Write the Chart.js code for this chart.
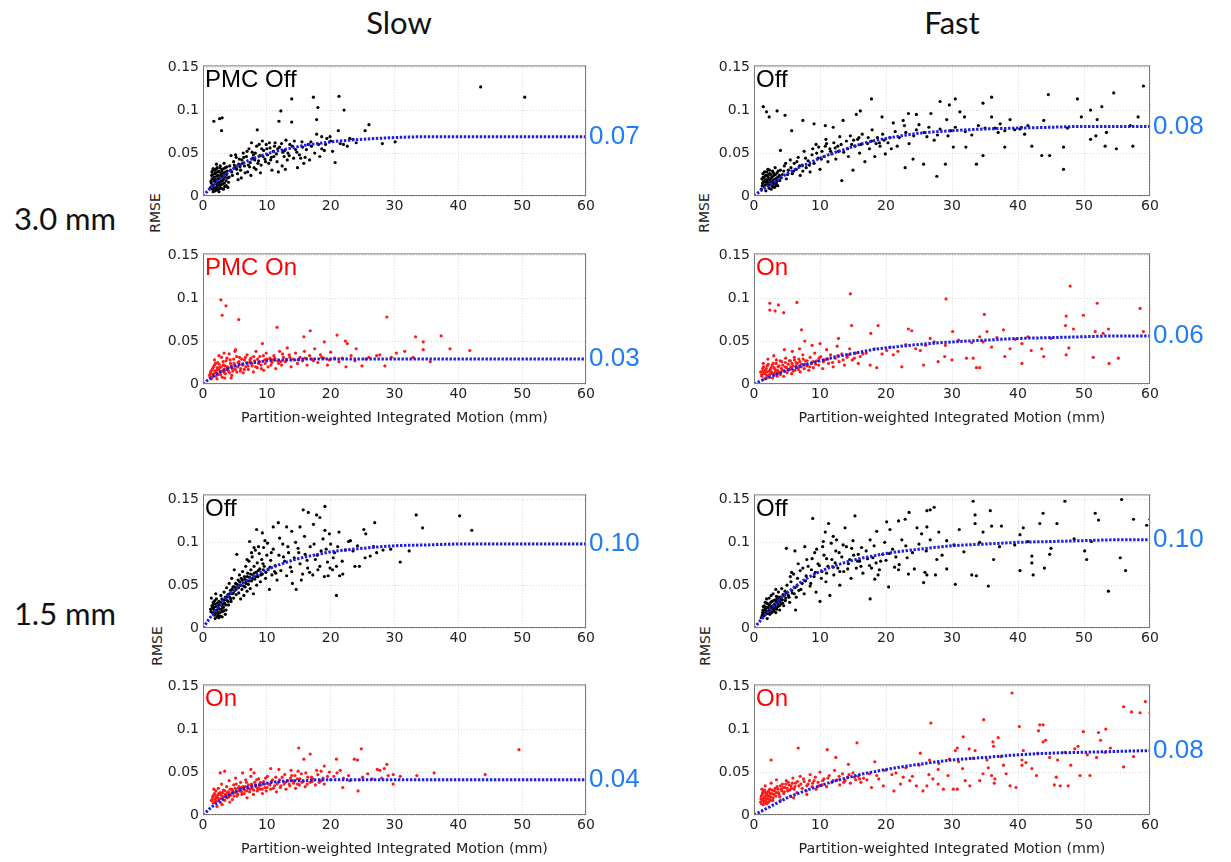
<!DOCTYPE html>
<html>
<head>
<meta charset="utf-8">
<script src="https://cdn.jsdelivr.net/npm/chart.js@4/dist/chart.umd.min.js"></script>
<style>
body { margin:0; background:#fff; width:1231px; height:862px; position:relative; overflow:hidden; }
.hd { position:absolute; font-family:Lato, "Open Sans", sans-serif; color:#111; line-height:1; white-space:nowrap; transform:translate(-50%,-50%); }
.ax { position:absolute; font-family:"DejaVu Sans", sans-serif; font-size:14px; color:#222; line-height:1; white-space:nowrap; transform:translate(-50%,-50%) rotate(-90deg); }
</style>
</head>
<body>
<div class="hd" style="left:399px;top:22px;font-size:31px">Slow</div>
<div class="hd" style="left:952px;top:22px;font-size:31px">Fast</div>
<div class="hd" style="left:65px;top:218px;font-size:31px">3.0 mm</div>
<div class="hd" style="left:65px;top:613px;font-size:31px">1.5 mm</div>
<div class="ax" style="left:155px;top:213px">RMSE</div>
<div class="ax" style="left:704px;top:213px">RMSE</div>
<div class="ax" style="left:157px;top:646px">RMSE</div>
<div class="ax" style="left:705px;top:646px">RMSE</div>
<script>
// --- ticks ---
const xTicks = [0, 10, 20, 30, 40, 50, 60];
const yTicks = [0, 0.05, 0.1, 0.15];
const yTickLabels = ['0', '0.05', '0.1', '0.15'];
const xTitleText = 'Partition-weighted Integrated Motion (mm)';

// --- fitted curves ---
const fitX = [0,1,2,3,4,5,6,7,8,10,12,14,16,18,20,25,30,35,40,45,50,55,60];
const fitSlowOff3  = [0,.008,.016,.022,.028,.033,.037,.041,.044,.049,.053,.056,.059,.061,.063,.066,.068,.069,.069,.069,.069,.069,.069];
const fitSlowOn3   = [0,.006,.011,.015,.018,.021,.023,.024,.025,.027,.028,.028,.029,.029,.029,.029,.029,.029,.029,.029,.029,.029,.029];
const fitFastOff3  = [0,.006,.011,.016,.021,.026,.030,.034,.037,.044,.050,.055,.060,.064,.067,.073,.076,.078,.079,.080,.081,.081,.081];
const fitFastOn3   = [0,.0035,.007,.010,.013,.016,.018,.021,.023,.027,.031,.034,.037,.040,.042,.046,.049,.051,.053,.054,.055,.056,.056];
const fitSlowOff15 = [0,.011,.021,.030,.038,.045,.051,.056,.061,.068,.074,.079,.083,.086,.089,.093,.096,.097,.098,.098,.098,.098,.098];
const fitSlowOn15  = [0,.007,.013,.018,.023,.027,.030,.032,.034,.037,.039,.040,.040,.041,.041,.041,.041,.041,.041,.041,.041,.041,.041];
const fitFastOff15 = [0,.009,.018,.026,.034,.041,.047,.053,.058,.066,.072,.077,.081,.084,.087,.092,.096,.098,.100,.101,.102,.103,.103];
const fitFastOn15  = [0,.004,.008,.012,.016,.020,.023,.026,.029,.034,.039,.043,.047,.050,.053,.059,.064,.067,.070,.072,.073,.074,.075];

// --- scatter points [motion, rmse] ---
const slowOff3 = [[1.2,.010],[1.3,.015],[1.4,.020],[1.5,.008],[1.5,.025],[1.6,.012],[1.7,.018],[1.8,.022],[1.8,.030],[1.9,.006],[2.0,.014],[2.0,.027],[2.1,.010],[2.2,.019],[2.2,.033],[2.3,.024],[2.4,.008],[2.4,.016],[2.5,.029],[2.6,.012],[2.6,.021],[2.7,.035],[2.8,.017],[2.8,.026],[2.9,.009],[3.0,.023],[3.0,.031],[3.1,.014],[3.2,.020],[3.3,.027],[3.4,.011],[3.5,.033],[3.6,.018],[3.7,.025],[3.8,.029],[4.0,.016],[4.1,.022],[4.2,.035],[1.4,.028],[1.6,.032],[2.1,.037],[3.3,.038],[2.5,.005],[1.9,.017],[2.3,.013],[3.9,.010],
  [1.7,.087],[2.6,.090],[3.0,.091],[2.9,.076],[4.4,.047],
  [4.5,.028],[4.8,.040],[5.0,.033],[5.2,.045],[5.4,.026],[5.6,.037],[5.9,.030],[6.1,.042],[6.3,.050],[6.5,.035],[6.8,.046],[7.0,.028],[7.2,.055],[7.4,.039],[7.6,.062],[7.8,.044],[8.0,.033],[8.2,.050],[8.4,.058],[8.5,.077],[8.7,.041],[8.9,.047],[9.1,.036],[9.3,.064],[9.5,.053],[9.7,.043],[9.9,.060],[10.1,.048],[10.3,.038],[10.5,.056],[10.7,.045],[11.0,.052],[11.3,.062],[11.6,.040],[11.9,.087],[12.2,.099],[12.0,.057],[12.4,.035],[12.7,.046],[13.0,.065],[13.3,.050],[13.6,.060],[13.9,.113],[13.9,.086],[14.2,.044],[14.5,.054],[14.8,.033],[15.1,.048],[15.5,.063],[15.8,.038],[16.2,.054],[16.7,.042],[17.0,.058],[17.3,.115],[17.8,.089],[17.8,.072],[18.0,.103],[18.3,.046],[18.6,.055],[18.6,.069],[19.2,.060],[19.4,.067],[19.9,.069],[20.3,.052],[20.7,.039],[21.2,.076],[21.3,.116],[22.0,.060],[22.1,.100],[23.0,.067],[23.5,.066],[25.4,.076],[26.0,.083],[28.1,.061],[30.1,.063],[43.5,.127],[50.4,.115],
  [6.0,.021],[7.5,.024],[9.0,.027],[10.8,.030],[5.5,.019],[8.3,.031],[11.8,.028],[12.9,.031],
  [1.25,.017],[1.35,.024],[1.45,.012],[1.55,.030],[1.65,.021],[1.75,.009],[1.85,.026],[1.95,.019],[2.05,.031],[2.15,.023],[2.25,.011],[2.35,.028],[2.45,.020],[2.55,.015],[2.65,.033],[2.75,.024],[2.85,.013],[2.95,.029],[3.05,.018],[3.15,.026],[3.25,.032],[3.35,.015],[3.45,.022],[3.55,.028],[3.65,.012],[3.75,.034],[3.85,.021],[1.6,.005],[2.1,.007],[2.7,.009],[3.2,.008],[4.3,.030],[4.6,.024],[4.9,.036],[5.3,.031],[5.7,.043],[6.2,.038],[6.6,.027],[6.9,.052],[7.3,.034],[7.9,.048],[8.6,.038],[9.2,.055],[9.8,.040],[10.4,.062],[11.1,.046],[11.7,.055],[12.5,.051],[13.2,.042],[14.0,.058],[15.3,.044],[16.5,.060],
  [5.1,.048],[5.8,.034],[6.4,.045],[7.1,.036],[7.7,.051],[8.1,.042],[8.8,.060],[9.4,.046],[10.0,.055],[10.6,.042],[11.2,.058],[11.5,.049],[12.3,.061],[12.8,.053],[13.5,.047],[14.3,.064],[14.7,.051],[15.6,.057],[16.0,.045],[16.9,.063],[17.5,.050],[18.1,.060],[19.0,.053],[20.0,.064],[21.5,.061],[22.6,.058],[24.0,.062]];

const slowOn3 = [[1.0,.010],[1.2,.014],[1.4,.008],[1.5,.018],[1.7,.012],[1.8,.022],[2.0,.009],[2.1,.016],[2.3,.025],[2.4,.011],[2.6,.019],[2.7,.014],[2.9,.031],[3.0,.008],[3.2,.022],[3.3,.017],[3.5,.012],[3.6,.027],[3.8,.020],[4.0,.015],[4.1,.035],[4.3,.024],[4.5,.010],[4.6,.018],[4.8,.029],[5.0,.021],[5.1,.040],[5.3,.014],[5.5,.025],[5.7,.031],[5.9,.018],[6.1,.023],[6.3,.013],[6.5,.028],[6.7,.020],[6.9,.034],[7.1,.017],[7.3,.025],[7.5,.030],[7.7,.021],[7.9,.014],[8.1,.027],[8.3,.038],[8.5,.019],[8.7,.024],[8.9,.032],[9.1,.022],[9.3,.047],[9.5,.016],[9.7,.028],[9.9,.036],[10.2,.020],[10.5,.030],[10.8,.025],[11.1,.033],[11.4,.018],[11.7,.027],[12.0,.038],[12.3,.022],[12.6,.031],[12.9,.026],[13.2,.042],[13.5,.034],[13.8,.020],[14.1,.029],[14.5,.036],[14.8,.024],[15.2,.031],[15.6,.027],[15.9,.038],[16.3,.022],[16.7,.033],[17.1,.029],[17.5,.041],[18.0,.025],[18.4,.034],[18.9,.030],[19.5,.022],[20.0,.037],[20.6,.030],[21.3,.026],[23.2,.033],[25.5,.029],[27.2,.033],[29.5,.031],
  [2.8,.098],[3.0,.080],[3.6,.091],[5.6,.075],[11.6,.066],[15.8,.055],[16.8,.062],[19.0,.049],[21.0,.057],[22.3,.050],[22.6,.047],[28.8,.078],[33.3,.055],[34.5,.049],[37.3,.056],[38.7,.041],[41.8,.039],[34.5,.040],[30.3,.036],[31.6,.038],[32.9,.031],[35.6,.026],[28.5,.021],[24.9,.021],[22.4,.020],[24.0,.041],[27.7,.034],
  [1.3,.006],[2.2,.006],[3.4,.007],[4.4,.007],
  [1.15,.012],[1.35,.016],[1.55,.011],[1.65,.020],[1.85,.015],[1.95,.024],[2.15,.013],[2.25,.019],[2.45,.017],[2.55,.023],[2.75,.011],[2.85,.020],[3.05,.015],[3.15,.026],[3.35,.013],[3.45,.021],[3.65,.017],[3.75,.030],[3.95,.019],[4.15,.013],[4.25,.028],[4.45,.021],[4.65,.015],[4.85,.024],[5.05,.017],[5.25,.032],[5.45,.020],[5.65,.026],[5.85,.015],[6.05,.029],[6.25,.022],[6.45,.017],[6.65,.031],[6.85,.025],[7.05,.021],[7.35,.028],[7.65,.024],[7.95,.032],[8.25,.020],[8.55,.029],[8.85,.026],[9.15,.018],[9.45,.033],[9.75,.024],[10.05,.029],[10.65,.022],[11.25,.030],[11.85,.024],[12.45,.035],[13.05,.029],
  [10.9,.028],[12.2,.026],[13.6,.031],[14.9,.028],[16.0,.030],[17.3,.027],[18.6,.031],[19.8,.028],[21.8,.030],[23.8,.027],[26.0,.031],[1.8,.028],[2.5,.033],[3.3,.036],[5.0,.038]];

const fastOff3 = [[1.1,.008],[1.3,.015],[1.4,.022],[1.5,.011],[1.6,.028],[1.7,.018],[1.8,.006],[1.9,.024],[2.0,.013],[2.1,.031],[2.2,.019],[2.3,.009],[2.4,.026],[2.5,.016],[2.6,.021],[2.7,.012],[2.8,.029],[2.9,.018],[3.0,.024],[3.1,.010],[3.2,.033],[3.3,.020],[3.4,.015],[3.5,.027],[3.6,.012],[3.7,.022],[3.9,.018],[4.0,.030],[1.2,.020],[1.8,.016],[2.2,.025],[2.6,.008],[3.0,.014],
  [4.3,.025],[4.6,.035],[4.9,.020],[5.2,.030],[5.5,.042],[5.8,.026],[6.1,.038],[6.4,.031],[6.7,.045],[7.0,.024],[7.3,.036],[7.6,.052],[7.9,.033],[8.2,.041],[8.5,.028],[8.8,.048],[9.1,.038],[9.4,.060],[9.7,.044],[10.0,.031],[10.3,.052],[10.6,.046],[10.9,.066],[11.2,.040],[11.5,.055],[11.8,.049],[12.1,.062],[12.4,.043],[12.7,.058],[13.0,.069],[13.3,.018],[13.6,.051],[14.0,.064],[14.3,.046],[14.6,.070],[15.0,.030],[15.3,.058],[15.7,.066],[16.0,.050],[16.4,.072],[16.8,.040],[17.2,.061],[17.5,.055],[17.9,.077],[18.3,.046],[18.7,.068],[19.1,.058],[19.5,.072],[19.9,.049],[20.3,.062],[20.8,.055],[21.4,.075],[22.0,.068],[22.8,.082],[23.5,.061],[24.2,.070],[25.0,.083],[25.8,.074],[26.5,.080],[27.3,.065],[28.2,.078],[29.4,.070],[30.5,.080],[33.0,.071],[35.0,.079],[37.0,.074],[39.5,.077],[41.5,.082],[47.5,.079],[57.0,.082],
  [1.4,.104],[1.9,.098],[2.3,.092],[3.5,.099],[4.7,.094],[5.7,.076],[7.4,.088],[4.0,.053],[9.1,.084],[10.8,.082],[12.0,.080],[13.5,.088],[15.5,.095],[16.1,.099],[17.8,.113],[19.4,.092],[21.1,.085],[22.6,.088],[23.4,.096],[24.6,.095],[26.8,.096],[28.2,.110],[29.6,.106],[30.5,.113],[31.2,.098],[31.9,.092],[29.2,.089],[34.7,.108],[36.0,.115],[36.0,.092],[37.3,.084],[38.8,.089],[40.3,.078],[41.0,.072],[43.9,.088],[44.6,.118],[44.8,.047],[43.6,.047],[42.1,.058],[38.0,.057],[34.7,.047],[33.7,.037],[32.1,.057],[30.2,.057],[29.0,.037],[27.7,.023],[25.7,.037],[24.1,.043],[22.9,.033],[46.9,.031],[46.9,.057],[49.0,.113],[49.6,.092],[51.0,.100],[51.0,.066],[51.8,.070],[52.0,.089],[52.7,.104],[53.2,.058],[54.5,.120],[54.9,.055],[57.4,.058],[58.2,.092],[59.0,.128],[53.4,.074],[38.0,.076],
  [1.25,.012],[1.35,.026],[1.45,.017],[1.55,.021],[1.65,.013],[1.75,.024],[1.85,.019],[1.95,.028],[2.05,.016],[2.15,.022],[2.25,.013],[2.35,.030],[2.45,.019],[2.55,.025],[2.65,.015],[2.75,.022],[2.85,.011],[2.95,.027],[3.05,.019],[3.15,.016],[3.25,.025],[3.35,.012],[3.45,.021],[3.55,.018],[3.65,.029],[3.85,.024],[4.1,.021],[4.5,.029],[4.8,.038],[5.1,.025],[5.6,.033],[6.0,.029],[6.5,.040],[6.9,.035],[7.4,.029],[7.8,.044],[8.4,.036],[8.9,.055],[9.5,.050],[10.2,.043],[10.8,.058],[11.6,.052],[12.3,.056],[13.2,.060],[14.2,.055],[15.1,.065],[16.2,.060],[17.3,.068],[18.5,.061],[19.7,.065],
  [9.8,.057],[11.0,.061],[12.8,.052],[14.8,.060],[15.9,.068],[17.8,.064],[19.0,.062],[20.6,.068],[21.7,.058],[23.0,.074],[24.6,.077],[26.2,.069],[27.8,.071],[29.8,.076],[32.0,.075],[34.0,.082],[36.5,.079],[40.5,.080]];

const fastOn3 = [[1.0,.014],[1.2,.009],[1.3,.018],[1.5,.012],[1.6,.006],[1.7,.016],[1.9,.010],[2.0,.021],[2.2,.008],[2.3,.015],[2.5,.012],[2.6,.019],[2.8,.007],[2.9,.024],[3.1,.011],[3.2,.017],[3.4,.028],[3.5,.009],[3.7,.014],[3.8,.021],[4.0,.011],[4.2,.026],[4.3,.016],[4.5,.009],[4.7,.020],[4.8,.030],[5.0,.013],[5.2,.023],[5.4,.017],[5.5,.027],[5.7,.012],[5.9,.021],[6.1,.031],[6.2,.016],[6.4,.025],[6.6,.019],[6.8,.029],[7.0,.014],[7.2,.023],[7.4,.034],[7.6,.018],[7.8,.027],[8.0,.021],[8.3,.016],[8.5,.031],[8.7,.024],[9.0,.019],[9.2,.036],[9.5,.027],[9.8,.022],[10.1,.032],[10.4,.018],[10.7,.028],[11.0,.040],[11.3,.024],[11.6,.034],[12.0,.020],[12.3,.030],[12.6,.044],[12.9,.026],[13.3,.035],[13.7,.022],[14.1,.031],[14.5,.041],[14.9,.028],[15.4,.036],[15.8,.024],[1.4,.024],[2.1,.029],[3.0,.033],[4.6,.040],[5.8,.038],[6.9,.041],[8.8,.045],[10.0,.047],[12.8,.053],
  [2.4,.094],[2.4,.086],[3.2,.085],[3.7,.092],[4.5,.083],[6.5,.095],[7.2,.063],[7.7,.050],[14.6,.105],[14.8,.068],[17.7,.059],[18.8,.068],[23.4,.064],[23.9,.062],[26.7,.053],[29.1,.099],[30.1,.061],[34.2,.055],[34.9,.081],[35.3,.061],[37.8,.063],[43.6,.041],[43.9,.032],[47.2,.068],[47.3,.079],[47.3,.034],[47.9,.114],[48.4,.064],[47.7,.042],[49.9,.080],[52.0,.094],[51.7,.061],[51.4,.031],[52.9,.059],[53.7,.064],[53.8,.024],[55.2,.030],[58.5,.088],[59.0,.061],[38.8,.041],[40.6,.047],[40.6,.024],[38.0,.032],[36.0,.043],[34.2,.019],[33.7,.019],[33.2,.030],[32.2,.030],[30.0,.028],[27.9,.026],[28.9,.032],[25.7,.022],[25.2,.039],[22.4,.020],[21.1,.034],[20.1,.039],[18.6,.019],[17.6,.022],[16.1,.032],[34.7,.049],[42.0,.039],
  [1.15,.011],[1.35,.015],[1.45,.020],[1.65,.013],[1.85,.018],[1.95,.014],[2.15,.023],[2.35,.011],[2.45,.017],[2.65,.014],[2.75,.022],[2.95,.012],[3.05,.019],[3.25,.014],[3.35,.024],[3.55,.016],[3.65,.020],[3.85,.013],[3.95,.027],[4.15,.018],[4.35,.022],[4.55,.015],[4.75,.025],[4.95,.019],[5.15,.016],[5.35,.027],[5.55,.020],[5.75,.024],[5.95,.015],[6.15,.028],[6.35,.021],[6.55,.024],[6.75,.017],[6.95,.026],[7.15,.020],[7.45,.029],[7.75,.023],[8.05,.027],[8.45,.020],[8.95,.026],[9.35,.023],[9.85,.030],[10.5,.026],[11.2,.029],[11.9,.025],[12.7,.033],[13.5,.028],[14.3,.034],[15.2,.030],[16.5,.035],
  [17.0,.036],[18.2,.041],[19.4,.035],[20.6,.043],[21.8,.038],[23.0,.046],[24.5,.041],[26.0,.045],[27.3,.049],[29.0,.045],[31.0,.051],[33.0,.048],[36.8,.054],[39.6,.052],[41.5,.055],[45.0,.053]];

const slowOff15 = [[1.2,.022],[1.4,.026],[1.5,.018],[1.6,.030],[1.7,.024],[1.8,.015],[1.9,.028],[2.0,.020],[2.1,.034],[2.2,.013],[2.3,.025],[2.4,.018],[2.5,.031],[2.6,.022],[2.7,.014],[2.8,.038],[2.9,.027],[3.0,.019],[3.1,.033],[3.2,.024],[3.3,.042],[3.4,.029],[3.5,.036],[3.6,.021],[3.7,.047],[3.8,.032],[3.9,.039],[4.0,.027],[4.1,.052],[4.2,.036],[4.3,.044],[4.4,.031],[4.5,.058],[4.6,.040],[4.7,.048],[4.8,.035],[4.9,.068],[5.0,.044],[5.1,.052],[5.2,.039],[5.3,.086],[5.4,.047],[5.5,.056],[5.6,.041],[5.7,.062],[5.8,.050],[5.9,.034],[6.0,.058],[6.1,.045],[6.2,.066],[6.3,.053],[6.4,.038],[6.5,.060],[6.6,.048],[6.7,.072],[6.8,.055],[6.9,.043],[7.0,.064],[7.1,.051],[7.2,.078],[7.3,.059],[7.4,.046],[7.5,.068],[7.6,.055],[7.7,.083],[7.8,.062],[7.9,.040],[8.0,.072],[8.1,.057],[8.2,.091],[8.3,.065],[8.4,.050],[8.5,.076],[8.6,.060],[8.8,.087],[8.9,.069],[9.0,.054],[9.2,.080],[9.3,.063],[9.5,.094],[9.6,.072],[9.8,.058],[10.0,.085],[10.2,.068],[10.4,.045],[10.6,.079],[10.8,.062],[11.0,.092],[11.3,.073],[11.6,.056],[11.9,.085],[12.2,.067],[12.5,.098],[12.8,.078],[13.1,.061],[13.4,.088],[13.7,.071],[14.0,.052],[14.3,.082],[14.6,.045],[14.9,.093],[15.2,.075],[15.6,.063],[16.0,.086],[16.4,.070],[16.8,.095],[17.2,.062],[17.6,.080],[18.0,.068],[18.5,.090],[19.0,.060],[19.5,.077],[20.0,.098],[20.4,.082],[1.3,.035],[2.0,.040],[1.9,.011],[2.5,.012],[3.0,.013],[3.5,.016],
  [15.7,.138],[16.5,.135],[17.8,.132],[18.3,.129],[19.1,.142],[11.8,.123],[13.1,.118],[13.9,.113],[11.0,.118],[8.4,.115],[9.3,.111],[7.3,.101],[9.7,.102],[15.2,.118],[17.3,.121],[19.1,.114],[19.8,.110],[21.3,.112],[22.8,.101],[23.1,.102],[25.2,.115],[25.5,.110],[26.9,.123],[27.2,.088],[28.2,.091],[29.4,.092],[30.9,.077],[32.3,.090],[33.4,.132],[34.4,.117],[40.2,.131],[42.1,.114],[23.8,.072],[24.5,.072],[20.9,.038],[19.6,.061],[21.4,.061],[21.9,.063],[20.9,.072],[20.3,.068],[25.4,.082],[26.2,.084],[26.7,.095],
  [1.25,.019],[1.45,.023],[1.55,.027],[1.65,.016],[1.75,.021],[1.85,.032],[1.95,.017],[2.05,.025],[2.15,.021],[2.25,.029],[2.35,.015],[2.45,.023],[2.55,.027],[2.65,.018],[2.75,.030],[2.85,.022],[2.95,.034],[3.05,.025],[3.15,.028],[3.25,.020],[3.45,.033],[3.55,.027],[3.75,.036],[3.95,.031],[4.15,.040],[4.35,.034],[4.55,.045],[4.75,.041],[4.95,.048],[5.15,.045],[5.35,.051],[5.55,.047],[5.75,.054],[5.95,.050],[6.15,.056],[6.35,.049],[6.55,.057],[6.75,.052],[6.95,.060],[7.15,.055],[7.45,.063],[7.75,.058],[8.05,.064],[8.35,.060],[8.65,.067],[9.05,.062],[9.45,.068],[9.85,.065],[10.5,.071],[11.2,.066],
  [8.7,.095],[9.4,.075],[10.1,.099],[10.7,.088],[11.4,.064],[12.0,.105],[12.6,.083],[13.3,.095],[13.9,.066],[14.5,.100],[15.0,.088],[15.4,.056],[15.9,.107],[16.3,.079],[16.7,.065],[17.4,.098],[17.9,.085],[18.3,.072],[18.8,.104],[19.3,.092],[19.9,.070],[20.6,.088],[21.1,.095],[21.8,.078],[22.3,.091],[23.5,.090],[24.2,.096],[6.9,.080],[7.6,.088],[8.0,.094]];

const slowOn15 = [[1.3,.017],[1.5,.021],[1.6,.014],[1.8,.025],[1.9,.019],[2.0,.028],[2.1,.016],[2.3,.023],[2.4,.031],[2.5,.018],[2.7,.026],[2.8,.014],[2.9,.036],[3.1,.021],[3.2,.029],[3.4,.017],[3.5,.024],[3.7,.033],[3.8,.020],[4.0,.027],[4.1,.040],[4.3,.023],[4.5,.030],[4.6,.018],[4.8,.035],[5.0,.026],[5.1,.043],[5.3,.022],[5.5,.031],[5.7,.028],[5.9,.038],[6.1,.024],[6.3,.033],[6.5,.029],[6.7,.041],[6.9,.020],[7.1,.035],[7.3,.027],[7.5,.045],[7.7,.031],[7.9,.024],[8.1,.038],[8.3,.033],[8.5,.028],[8.7,.042],[8.9,.030],[9.1,.035],[9.3,.025],[9.5,.039],[9.7,.032],[9.9,.028],[10.1,.045],[10.3,.036],[10.6,.030],[10.9,.041],[11.2,.034],[11.5,.027],[11.8,.038],[12.1,.032],[12.4,.044],[12.7,.036],[13.0,.030],[13.3,.040],[13.6,.034],[13.9,.046],[14.2,.037],[14.5,.031],[14.8,.042],[15.1,.035],[15.4,.048],[15.7,.039],[16.0,.033],[16.4,.044],[16.8,.038],[17.2,.042],[17.6,.035],[18.0,.047],[18.5,.040],[19.0,.036],[19.5,.045],[20.0,.041],[21.0,.049],[22.0,.043],[23.0,.040],[25.0,.044],[26.5,.042],[1.7,.030],[2.2,.010],[3.0,.012],[4.2,.015],
  [15.0,.078],[16.8,.071],[15.8,.065],[24.8,.077],[23.7,.065],[24.2,.064],[20.9,.065],[19.0,.057],[18.5,.051],[27.3,.053],[27.7,.052],[28.4,.054],[28.8,.059],[29.0,.046],[29.8,.036],[29.8,.047],[30.9,.045],[33.5,.046],[36.2,.049],[44.2,.047],[49.5,.076],[24.3,.028],[21.9,.032],[2.7,.049],[3.4,.051],[6.2,.049],[7.5,.053],[8.0,.049],[10.6,.054],[11.9,.053],[13.8,.052],[14.9,.051],
  [1.45,.018],[1.65,.023],[1.85,.016],[2.05,.022],[2.25,.020],[2.45,.025],[2.65,.019],[2.85,.023],[3.05,.026],[3.25,.021],[3.45,.028],[3.65,.023],[3.85,.026],[4.05,.021],[4.25,.030],[4.45,.025],[4.65,.028],[4.85,.022],[5.05,.031],[5.25,.027],[5.45,.024],[5.65,.033],[5.85,.029],[6.05,.027],[6.25,.031],[6.45,.025],[6.65,.033],[6.85,.028],[7.05,.031],[7.35,.030],[7.65,.034],[7.95,.029],[8.25,.035],[8.55,.031],[8.85,.034],[9.25,.030],[9.65,.036],[10.05,.032],[10.5,.035],[11.0,.031],[11.6,.036],[12.2,.034],[12.9,.038],[13.5,.036],[14.1,.040],[14.8,.036],[15.5,.038],[16.3,.036],[17.1,.039],[18.2,.038],
  [5.2,.036],[6.0,.032],[6.8,.038],[7.6,.036],[8.4,.041],[9.0,.038],[9.8,.043],[10.7,.039],[11.4,.044],[12.0,.041],[12.8,.047],[13.7,.043],[14.4,.046],[15.2,.042],[16.1,.049],[17.0,.044],[17.8,.052],[18.8,.043],[19.8,.050],[20.5,.045],[21.5,.052],[22.8,.046],[24.5,.041],[25.8,.048],[28.0,.043]];

const fastOff15 = [[1.1,.012],[1.3,.018],[1.4,.025],[1.5,.014],[1.6,.021],[1.7,.030],[1.8,.017],[1.9,.024],[2.0,.011],[2.1,.028],[2.2,.020],[2.3,.035],[2.4,.016],[2.5,.026],[2.6,.022],[2.7,.031],[2.8,.019],[2.9,.040],[3.0,.027],[3.1,.023],[3.2,.033],[3.3,.018],[3.4,.037],[3.5,.029],[3.6,.025],[3.7,.042],[3.8,.032],[3.9,.021],[4.0,.036],[4.1,.028],[4.2,.046],[4.3,.033],[4.4,.039],[4.5,.026],[4.7,.043],[4.8,.035],[5.0,.050],[5.2,.038],[5.4,.030],[5.6,.054],[5.8,.041],[6.0,.063],[6.2,.047],[6.4,.036],[6.6,.058],[6.8,.044],[7.0,.067],[7.3,.052],[7.6,.040],[7.9,.061],[8.2,.072],[8.5,.049],[8.8,.081],[9.1,.060],[9.4,.042],[9.7,.075],[10.0,.031],[10.3,.066],[10.6,.085],[10.9,.054],[11.2,.072],[11.5,.038],[11.8,.080],[12.1,.062],[12.4,.090],[12.7,.070],[13.0,.050],[13.3,.083],[13.6,.066],[14.0,.095],[14.3,.075],[14.7,.058],[15.1,.085],[15.5,.070],[16.0,.078],[16.5,.064],[17.0,.090],[17.5,.073],[18.0,.082],[18.5,.076],[19.0,.068],[19.5,.086],[20.0,.079],[21.0,.092],[22.0,.074],[23.0,.096],[24.0,.088],[25.0,.098],[1.9,.034],[2.6,.038],[3.3,.045],[5.7,.065],[6.3,.021],
  [8.9,.128],[11.3,.122],[10.8,.112],[10.5,.101],[9.5,.092],[4.9,.093],[6.2,.090],[7.7,.095],[12.0,.107],[12.5,.103],[13.8,.117],[15.3,.131],[14.8,.093],[15.8,.086],[17.6,.103],[18.6,.113],[20.1,.124],[20.6,.115],[21.9,.125],[22.9,.127],[23.5,.135],[24.7,.117],[26.2,.137],[26.7,.138],[27.3,.141],[26.2,.118],[28.0,.112],[26.7,.103],[29.2,.102],[31.1,.115],[33.2,.148],[33.5,.132],[33.5,.122],[34.7,.112],[35.8,.137],[36.0,.119],[37.5,.119],[40.3,.109],[40.8,.117],[43.8,.134],[43.3,.122],[47.1,.148],[45.9,.122],[51.7,.134],[52.2,.126],[55.7,.150],[57.5,.127],[59.5,.120],[60.0,.127],[55.5,.082],[56.3,.067],[53.7,.043],[50.4,.080],[50.1,.090],[51.1,.101],[44.8,.086],[44.0,.070],[42.1,.084],[42.3,.062],[42.1,.076],[40.3,.067],[35.5,.049],[36.3,.080],[33.7,.061],[33.0,.062],[30.5,.051],[29.2,.069],[27.7,.080],[27.5,.062],[26.2,.062],[25.9,.065],[25.7,.053],[23.4,.063],[21.9,.068],[20.4,.048],[17.6,.034],[18.3,.057],
  [1.25,.015],[1.35,.021],[1.45,.018],[1.55,.026],[1.65,.016],[1.75,.023],[1.85,.020],[1.95,.029],[2.05,.017],[2.15,.024],[2.25,.019],[2.35,.027],[2.45,.022],[2.55,.030],[2.65,.018],[2.75,.025],[2.85,.023],[2.95,.032],[3.05,.020],[3.15,.028],[3.25,.025],[3.35,.031],[3.45,.022],[3.55,.034],[3.65,.028],[3.75,.036],[3.85,.026],[3.95,.031],[4.15,.034],[4.35,.029],[4.55,.038],[4.75,.032],[4.95,.041],[5.3,.036],[5.7,.044],[6.1,.040],[6.5,.049],[7.1,.045],[7.8,.055],[8.6,.052],[9.3,.065],[10.2,.058],[11.0,.064],[12.0,.071],[13.0,.066],[14.5,.080],[16.2,.072],[17.8,.070],[19.2,.078],[21.5,.083],
  [5.5,.060],[6.7,.075],[7.4,.070],[8.0,.080],[8.7,.068],[9.2,.088],[9.9,.073],[10.4,.095],[11.0,.081],[11.7,.099],[12.3,.076],[12.9,.088],[13.5,.097],[14.2,.069],[15.0,.102],[15.7,.078],[16.3,.094],[17.2,.081],[18.2,.096],[18.8,.062],[19.8,.100],[20.5,.087],[21.3,.071],[22.4,.103],[23.2,.082],[24.3,.069],[25.4,.110],[26.1,.090],[28.5,.085],[30.3,.097],[31.8,.089],[34.2,.100],[37.2,.095],[39.5,.097],[41.5,.101],[45.0,.093],[48.5,.104]];

const fastOn15 = [[1.0,.015],[1.1,.022],[1.2,.018],[1.3,.026],[1.4,.012],[1.5,.020],[1.6,.029],[1.7,.016],[1.8,.023],[1.9,.013],[2.0,.019],[2.1,.027],[2.2,.015],[2.3,.022],[2.4,.030],[2.5,.017],[2.7,.025],[2.9,.020],[3.1,.028],[3.3,.022],[3.5,.033],[3.7,.026],[3.9,.021],[4.1,.030],[4.3,.036],[4.5,.025],[4.7,.032],[4.9,.040],[5.1,.028],[5.3,.035],[5.5,.022],[5.7,.031],[5.9,.043],[6.1,.030],[6.3,.037],[6.5,.026],[6.8,.034],[7.0,.045],[7.3,.031],[7.6,.039],[7.9,.028],[8.2,.036],[8.5,.047],[8.8,.033],[9.1,.040],[9.4,.030],[9.7,.038],[10.0,.050],[10.3,.035],[10.6,.042],[11.0,.033],[11.4,.046],[11.8,.038],[12.2,.052],[12.6,.041],[13.0,.035],[13.4,.048],[13.8,.040],[14.2,.044],[14.6,.037],[15.0,.049],[15.4,.041],[15.8,.045],[16.2,.038],[16.6,.043],[1.2,.030],[1.7,.034],[2.6,.037],[3.4,.041],[4.0,.017],[6.0,.020],[8.0,.024],
  [2.6,.064],[6.7,.078],[11.1,.076],[12.4,.067],[14.3,.059],[15.6,.084],[18.3,.062],[25.2,.072],[26.8,.107],[26.6,.064],[27.9,.053],[29.6,.065],[30.5,.075],[30.8,.078],[31.7,.091],[31.6,.054],[32.6,.077],[33.5,.075],[34.8,.111],[35.3,.064],[36.2,.085],[36.3,.080],[37.0,.090],[37.8,.058],[39.1,.142],[40.2,.103],[40.6,.064],[40.6,.058],[40.8,.075],[42.1,.054],[42.8,.046],[43.1,.098],[43.3,.105],[43.8,.105],[43.8,.085],[44.2,.087],[44.8,.067],[45.5,.035],[45.8,.044],[46.4,.034],[47.1,.073],[47.6,.034],[48.6,.077],[49.1,.080],[49.4,.046],[49.9,.097],[50.9,.046],[51.9,.067],[52.2,.096],[52.5,.087],[53.3,.100],[53.2,.073],[56.0,.056],[56.0,.126],[57.2,.120],[58.5,.119],[59.3,.132],[60.0,.119],[39.7,.032],[38.8,.034],[38.2,.048],[36.5,.042],[36.4,.037],[36.0,.046],[34.7,.048],[34.2,.040],[32.7,.034],[30.8,.030],[30.2,.030],[28.7,.030],[27.9,.036],[27.1,.042],[26.2,.034],[25.6,.028],[24.6,.034],[23.6,.040],[22.6,.044],[21.2,.028],[20.9,.047],[19.6,.034],[18.6,.046],[17.8,.032],[17.1,.041],
  [1.05,.019],[1.15,.013],[1.25,.024],[1.35,.017],[1.45,.028],[1.55,.015],[1.65,.021],[1.75,.026],[1.85,.018],[1.95,.024],[2.05,.014],[2.15,.022],[2.25,.028],[2.35,.018],[2.45,.025],[2.55,.021],[2.75,.029],[2.85,.017],[3.0,.024],[3.2,.031],[3.4,.026],[3.6,.030],[3.8,.024],[4.0,.034],[4.2,.028],[4.4,.032],[4.6,.027],[4.8,.036],[5.0,.031],[5.2,.038],[5.4,.029],[5.6,.034],[5.8,.037],[6.2,.033],[6.6,.039],[7.1,.036],[7.5,.042],[8.0,.034],[8.4,.040],[8.9,.037],[9.3,.044],[9.8,.034],[10.4,.040],[11.2,.043],[12.0,.040],[12.9,.045],[13.6,.038],[14.4,.047],[15.2,.044],[16.0,.042],
  [17.5,.048],[18.9,.042],[19.9,.052],[21.5,.049],[22.2,.036],[23.0,.055],[24.0,.045],[25.0,.058],[26.5,.047],[28.0,.060],[29.4,.046],[31.0,.062],[32.0,.040],[33.2,.066],[35.5,.055],[37.4,.068],[41.2,.061],[43.0,.072],[46.0,.064],[48.0,.058],[50.5,.070],[54.0,.078],[57.5,.068]];

// --- panel layout ---
const BLACK = '#000000', RED = '#ff1a1a', FITBLUE = '#1c1ce6', VALBLUE = '#1f7cf5';
const panels = [
  { pts: slowOff3,  fit: fitSlowOff3,  label: 'PMC Off', value: '0.07', color: BLACK, left: 203, top: 65,  w: 383, h: 131, yMax: 0.152, xTitle: false },
  { pts: slowOn3,   fit: fitSlowOn3,   label: 'PMC On',  value: '0.03', color: RED,   left: 203, top: 253, w: 383, h: 131, yMax: 0.152, xTitle: true },
  { pts: fastOff3,  fit: fitFastOff3,  label: 'Off',     value: '0.08', color: BLACK, left: 754, top: 65,  w: 396, h: 131, yMax: 0.152, xTitle: false },
  { pts: fastOn3,   fit: fitFastOn3,   label: 'On',      value: '0.06', color: RED,   left: 754, top: 253, w: 396, h: 131, yMax: 0.152, xTitle: true },
  { pts: slowOff15, fit: fitSlowOff15, label: 'Off',     value: '0.10', color: BLACK, left: 203, top: 494, w: 383, h: 134, yMax: 0.156, xTitle: false },
  { pts: slowOn15,  fit: fitSlowOn15,  label: 'On',      value: '0.04', color: RED,   left: 203, top: 684, w: 383, h: 131, yMax: 0.152, xTitle: true },
  { pts: fastOff15, fit: fitFastOff15, label: 'Off',     value: '0.10', color: BLACK, left: 754, top: 494, w: 396, h: 134, yMax: 0.156, xTitle: false },
  { pts: fastOn15,  fit: fitFastOn15,  label: 'On',      value: '0.08', color: RED,   left: 754, top: 684, w: 396, h: 131, yMax: 0.152, xTitle: true }
];

const tickFont = { family: 'DejaVu Sans', size: 14 };

function panelPlugin(p) {
  return {
    id: 'panelText',
    afterDraw(chart) {
      const { ctx, chartArea: a, scales: { y } } = chart;
      ctx.save();
      // box frame
      ctx.strokeStyle = '#7a7a7a';
      ctx.lineWidth = 1;
      ctx.strokeRect(a.left + 0.5, a.top + 0.5, a.width - 1, a.height - 1);
      // panel name
      ctx.fillStyle = p.color === RED ? '#ff0000' : '#000';
      ctx.font = '24px "Liberation Sans", Arial';
      ctx.textBaseline = 'top';
      ctx.fillText(p.label, a.left + 2, a.top + 3);
      // plateau value
      ctx.fillStyle = VALBLUE;
      ctx.font = '26px "Liberation Sans", Arial';
      ctx.textBaseline = 'middle';
      ctx.fillText(p.value, a.right + 3, y.getPixelForValue(p.fit[p.fit.length - 1]));
      ctx.restore();
    }
  };
}

function drawPanel(p) {
  const xH = p.xTitle ? 43 : 24;
  const W = p.w + 60 + 80, H = 12 + p.h + xH;
  const cv = document.createElement('canvas');
  cv.width = W; cv.height = H;
  cv.style.cssText = `position:absolute;left:${p.left - 60}px;top:${p.top - 12}px;width:${W}px;height:${H}px`;
  document.body.appendChild(cv);

  new Chart(cv, {
    type: 'scatter',
    data: {
      datasets: [
        {
          data: fitX.map((x, i) => ({ x, y: p.fit[i] })),
          showLine: true, pointRadius: 0, borderColor: FITBLUE, borderWidth: 3,
          borderDash: [2.4, 1.6], cubicInterpolationMode: 'monotone', order: 0
        },
        {
          data: p.pts.map(([x, y]) => ({ x, y })),
          pointRadius: 1.6, pointBorderWidth: 0, backgroundColor: p.color, borderColor: p.color, order: 1
        }
      ]
    },
    options: {
      responsive: false, animation: false, devicePixelRatio: 1,
      layout: { padding: { top: 12, right: 80, left: 0, bottom: 0 } },
      plugins: { legend: { display: false }, tooltip: { enabled: false } },
      scales: {
        x: {
          type: 'linear', min: 0, max: 60,
          afterBuildTicks: s => { s.ticks = xTicks.map(v => ({ value: v })); },
          afterFit: s => { s.height = xH; },
          grid: { color: '#d6d6d6', drawTicks: false },
          border: { display: false, dash: [1, 2] },
          ticks: { font: tickFont, color: '#1e1e1e', padding: 2, maxRotation: 0, autoSkip: false, callback: v => String(v) },
          title: { display: p.xTitle, text: xTitleText, font: { family: 'DejaVu Sans', size: 14.3 }, color: '#1e1e1e', padding: 0 }
        },
        y: {
          type: 'linear', min: 0, max: p.yMax,
          afterBuildTicks: s => { s.ticks = yTicks.map(v => ({ value: v })); },
          afterFit: s => { s.width = 60; },
          grid: { color: '#d6d6d6', drawTicks: false },
          border: { display: false, dash: [1, 2] },
          ticks: { font: tickFont, color: '#1e1e1e', padding: 4, autoSkip: false, callback: (v, i) => yTickLabels[i] }
        }
      }
    },
    plugins: [panelPlugin(p)]
  });
}

panels.forEach(drawPanel);
</script>
</body>
</html>
